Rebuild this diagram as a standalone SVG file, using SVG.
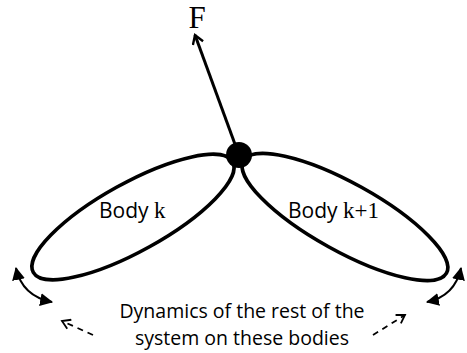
<svg xmlns="http://www.w3.org/2000/svg" width="467" height="353" viewBox="0 0 467 353">
<style>
.body{fill:none;stroke:#000;stroke-width:3.6}
.lbl{font-family:"Open Sans","Liberation Sans",sans-serif;font-size:21px;fill:#000}
.ser{font-family:"Liberation Serif","Times New Roman",serif;font-size:23px}
.cap{font-family:"Open Sans","Liberation Sans",sans-serif;font-size:19.5px;fill:#000;text-anchor:middle}
.conn{fill:none;stroke:#000}
</style>
<defs>
<marker id="open" viewBox="0 0 12 12" refX="10" refY="6" markerWidth="13" markerHeight="13" markerUnits="userSpaceOnUse" orient="auto">
<path d="M2,1 L10,6 L2,11" fill="none" stroke="#000" stroke-width="2.2"/>
</marker>
<marker id="openS" viewBox="0 0 12 12" refX="10" refY="6" markerWidth="12" markerHeight="12" markerUnits="userSpaceOnUse" orient="auto">
<path d="M2,1 L10,6 L2,11" fill="none" stroke="#000" stroke-width="1.8"/>
</marker>
<marker id="tri" viewBox="0 0 12 12" refX="11" refY="6" markerWidth="13" markerHeight="13" markerUnits="userSpaceOnUse" orient="auto-start-reverse">
<path d="M0,0 L12,6 L0,12 Z" fill="#000"/>
</marker>
</defs>
<g id="body-k">
<ellipse class="body" cx="133" cy="217" rx="114" ry="34" transform="rotate(-29 133 217)"/>
<text class="lbl" x="99" y="218">Body <tspan class="ser">k</tspan></text>
</g>
<g id="body-k1">
<ellipse class="body" cx="345" cy="217" rx="116" ry="34" transform="rotate(29 345 217)"/>
<text class="lbl" x="288" y="218">Body <tspan class="ser">k+1</tspan></text>
</g>
<g id="joint">
<circle cx="239" cy="155" r="13" fill="#000"/>
</g>
<g id="force-label">
<text x="197" y="28" font-family="Liberation Serif,'Times New Roman',serif" font-size="31" text-anchor="middle">F</text>
</g>
<g id="caption">
<text class="cap" x="242" y="318">Dynamics of the rest of the</text>
<text class="cap" x="242" y="345">system on these bodies</text>
</g>
<g id="connectors">
<line class="conn" x1="236" y1="147" x2="195" y2="35" stroke-width="3" marker-end="url(#open)"/>
<path class="conn" d="M16,268 Q22,296 52,302" stroke-width="2" marker-start="url(#tri)" marker-end="url(#tri)"/>
<path class="conn" d="M461,268 Q455,296 427,302" stroke-width="2" marker-start="url(#tri)" marker-end="url(#tri)"/>
<line class="conn" x1="93" y1="335" x2="62" y2="321" stroke-width="1.8" stroke-dasharray="6,5" marker-end="url(#openS)"/>
<line class="conn" x1="373" y1="335" x2="405" y2="315" stroke-width="1.8" stroke-dasharray="6,5" marker-end="url(#openS)"/>
</g>
</svg>
